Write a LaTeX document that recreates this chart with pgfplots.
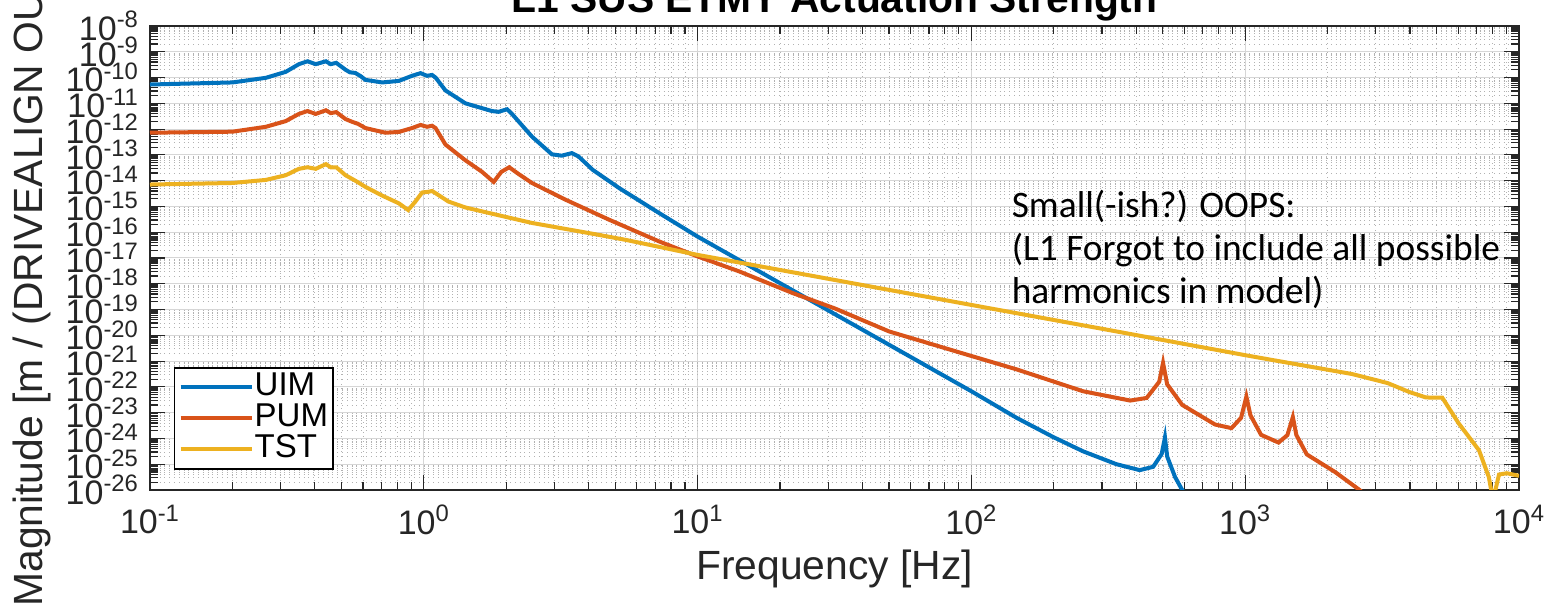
\documentclass[border=0pt]{standalone}
\usepackage{fontspec}
\setmainfont{Liberation Sans}
\newfontfamily\calibri{Carlito}
\usepackage{pgfplots}
\pgfplotsset{compat=1.18}
\definecolor{mblue}{RGB}{0,114,189}
\definecolor{morange}{RGB}{217,83,25}
\definecolor{myellow}{RGB}{237,177,32}
\definecolor{axgray}{RGB}{38,38,38}
\newcommand{\tn}[1]{10\textsuperscript{#1}}
\gdef\yminor{}
\foreach \e in {-26,...,-9}{\foreach \m in {2,...,9}{\ifx\yminor\empty\xdef\yminor{\m e\e}\else\xdef\yminor{\yminor,\m e\e}\fi}}
\gdef\xminor{}
\foreach \e in {-1,...,3}{\foreach \m in {2,...,9}{\ifx\xminor\empty\xdef\xminor{\m e\e}\else\xdef\xminor{\xminor,\m e\e}\fi}}
\begin{document}
\begin{tikzpicture}
\begin{axis}[
  at={(0,0)}, anchor=south west,
  scale only axis, width=684.5pt, height=232pt,
  xmode=log, ymode=log, log basis x=10, log basis y=10,
  xmin=0.1, xmax=10000, ymin=1e-26, ymax=1e-8,
  xtick={0.1,1,10,100,1000,10000},
  xticklabels={\tn{-1},\tn{0},\tn{1},\tn{2},\tn{3},\tn{4}},
  ytick={1e-26,1e-25,1e-24,1e-23,1e-22,1e-21,1e-20,1e-19,1e-18,1e-17,1e-16,1e-15,1e-14,1e-13,1e-12,1e-11,1e-10,1e-9,1e-8},
  yticklabels={\tn{-26},\tn{-25},\tn{-24},\tn{-23},\tn{-22},\tn{-21},\tn{-20},\tn{-19},\tn{-18},\tn{-17},\tn{-16},\tn{-15},\tn{-14},\tn{-13},\tn{-12},\tn{-11},\tn{-10},\tn{-9},\tn{-8}},
  minor xtick/.expanded={\xminor},
  minor ytick/.expanded={\yminor},
  tick align=inside, xtick pos=both, ytick pos=both,
  major tick length=7.5pt, minor tick length=4pt,
  grid=both,
  major grid style={draw=black!16, line width=0.5pt},
  minor grid style={draw=black!30, dotted, line width=0.4pt},
  axis line style={draw=axgray, line width=1pt},
  every tick/.style={draw=axgray, line width=0.6pt},
  tick label style={font=\fontsize{17}{17}\selectfont, text=axgray},
  yticklabel style={xshift=-2pt},
  xticklabel style={yshift=-4pt},
  title={L1 SUS ETMY Actuation Strength},
  every axis title/.style={font=\bfseries\fontsize{20.4}{20.4}\selectfont, at={(0.5,1)}, anchor=base, yshift=6.5pt},
  xlabel={Frequency [Hz]},
  xlabel style={font=\fontsize{20.4}{20.4}\selectfont, text=axgray, at={(axis description cs:0.5,0)}, anchor=base, yshift=-44.5pt},
  ylabel={Magnitude [m / (DRIVEALIGN OUT ct)]},
  ylabel style={font=\fontsize{20.4}{20.4}\selectfont, text=axgray, inner sep=0pt, at={(axis description cs:-0.0782,-0.2522)}, anchor=base west},
  legend style={at={(axis description cs:0.0175,0.265)}, anchor=north west, draw=black, line width=0.75pt, fill=white,
    font=\fontsize{16.5}{16.5}\selectfont, inner sep=2pt, row sep=0pt,
    nodes={text height=11.5pt, text depth=3pt, inner sep=0.5pt}},
  legend cell align=left,
  legend image code/.code={\draw[#1] (0pt,0pt) -- (35.5pt,0pt);},
]
\addplot[mblue, line width=2pt] coordinates {
(0.1,5.37e-11) (0.2,6.46e-11) (0.265,9.77e-11) (0.313,1.66e-10) (0.35,3.31e-10)
(0.376,4.27e-10) (0.403,3.31e-10) (0.439,4.27e-10) (0.457,3.31e-10) (0.479,3.72e-10)
(0.518,2.0e-10) (0.537,1.6e-10) (0.562,1.51e-10) (0.589,1.12e-10) (0.612,8.13e-11)
(0.705,6.46e-11) (0.811,7.41e-11) (0.906,1.17e-10) (0.973,1.48e-10) (1.028,1.17e-10)
(1.072,1.26e-10) (1.104,1.0e-10) (1.2,3.16e-11) (1.419,1e-11) (1.774,5.01e-12)
(1.875,4.68e-12) (2.014,5.89e-12) (2.099,3.89e-12) (2.483,5.13e-13) (2.938,1.05e-13)
(3.19,9.33e-14) (3.475,1.17e-13) (3.673,8.71e-14) (4.14,2.63e-14) (5.176,5.13e-15)
(7.244,5.50e-16) (10,6.76e-17) (31.62,6.76e-20) (100,6.76e-23) (146.2,6.31e-24)
(199.5,1.12e-24) (255.9,3.16e-25) (338.8,1e-25) (412.1,5.89e-26) (461.3,7.94e-26)
(495.5,2.51e-25) (509.3,1.10e-24) (518.8,2.0e-25) (554.6,3.16e-26) (588.8,1e-26)
(620,5e-27)
};
\addlegendentry{UIM}
\addplot[morange, line width=2pt] coordinates {
(0.1,7.24e-13) (0.2,7.94e-13) (0.265,1.23e-12) (0.313,2.04e-12) (0.35,3.89e-12)
(0.376,5.01e-12) (0.403,3.89e-12) (0.439,5.37e-12) (0.457,4.17e-12) (0.479,4.57e-12)
(0.518,2.45e-12) (0.548,1.91e-12) (0.575,1.6e-12) (0.612,1.10e-12) (0.724,7.24e-13)
(0.811,7.76e-13) (0.906,1.10e-12) (0.973,1.45e-12) (1.028,1.23e-12) (1.072,1.35e-12)
(1.104,1.10e-12) (1.2,2.51e-13) (1.419,6.17e-14) (1.633,2.19e-14) (1.8,8.91e-15)
(1.919,2.19e-14) (2.051,3.31e-14) (2.218,1.82e-14) (2.483,8.13e-15) (3.281,1.86e-15)
(4.764,3.02e-16) (7.244,4.37e-17) (10,1.15e-17) (14.19,3.02e-18) (22.23,4.37e-19)
(31.62,1.12e-19) (50.1,1.41e-20) (100,1.58e-21) (146.2,4.79e-22) (255.9,6.76e-23)
(380.2,2.95e-23) (436.5,3.72e-23) (485.3,1.58e-22) (501.2,8.51e-22) (518.8,1.26e-22)
(588.8,2.0e-23) (776.2,3.47e-24) (891.3,2.51e-24) (966,6.31e-24) (1010,4.2e-23)
(1045,7.94e-24) (1143,1.38e-24) (1324,6.92e-25) (1426,1.35e-24) (1493,6.76e-24)
(1538,1.35e-24) (1679,2.40e-25) (2128,5.01e-26) (2618,1e-26) (2818,5e-27)
};
\addlegendentry{PUM}
\addplot[myellow, line width=2pt] coordinates {
(0.1,7.08e-15) (0.2,8.13e-15) (0.265,1.07e-14) (0.313,1.62e-14) (0.35,2.88e-14)
(0.376,3.31e-14) (0.403,2.88e-14) (0.439,4.37e-14) (0.457,3.31e-14) (0.479,3.31e-14)
(0.518,1.62e-14) (0.562,1.0e-14) (0.612,5.75e-15) (0.705,2.63e-15) (0.811,1.32e-15)
(0.877,7.24e-16) (0.933,1.58e-15) (0.986,3.47e-15) (1.042,3.72e-15) (1.072,3.98e-15)
(1.117,3.02e-15) (1.23,1.55e-15) (1.419,9.12e-16) (1.875,4.57e-16) (2.483,2.29e-16)
(4.345,7.94e-17) (5.483,5.01e-17) (10,1.32e-17) (31.62,1.41e-18) (100,1.51e-19)
(316.2,1.62e-20) (1000,1.70e-21) (1230,1.15e-21) (2455,3.16e-22) (3311,1.41e-22)
(3981,6.3e-23) (4571,3.89e-23) (5248,3.8e-23) (6026,3.80e-24) (7145,3.47e-25)
(7762,3.16e-26) (8035,4e-27) (8453,3.98e-26) (9036,4.47e-26) (10000,3.55e-26)
};
\addlegendentry{TST}
\node[anchor=north west, align=left, inner sep=0pt, font=\calibri\fontsize{18.7}{21.5}\selectfont]
  at (axis cs:140,4.4e-15) {Small(-ish?) OOPS:\\(L1 Forgot to include all possible\\harmonics in model)};
\end{axis}
\pgfresetboundingbox
\path[use as bounding box] (-75pt,-61.5pt) rectangle (701pt,245pt);
\end{tikzpicture}
\end{document}
